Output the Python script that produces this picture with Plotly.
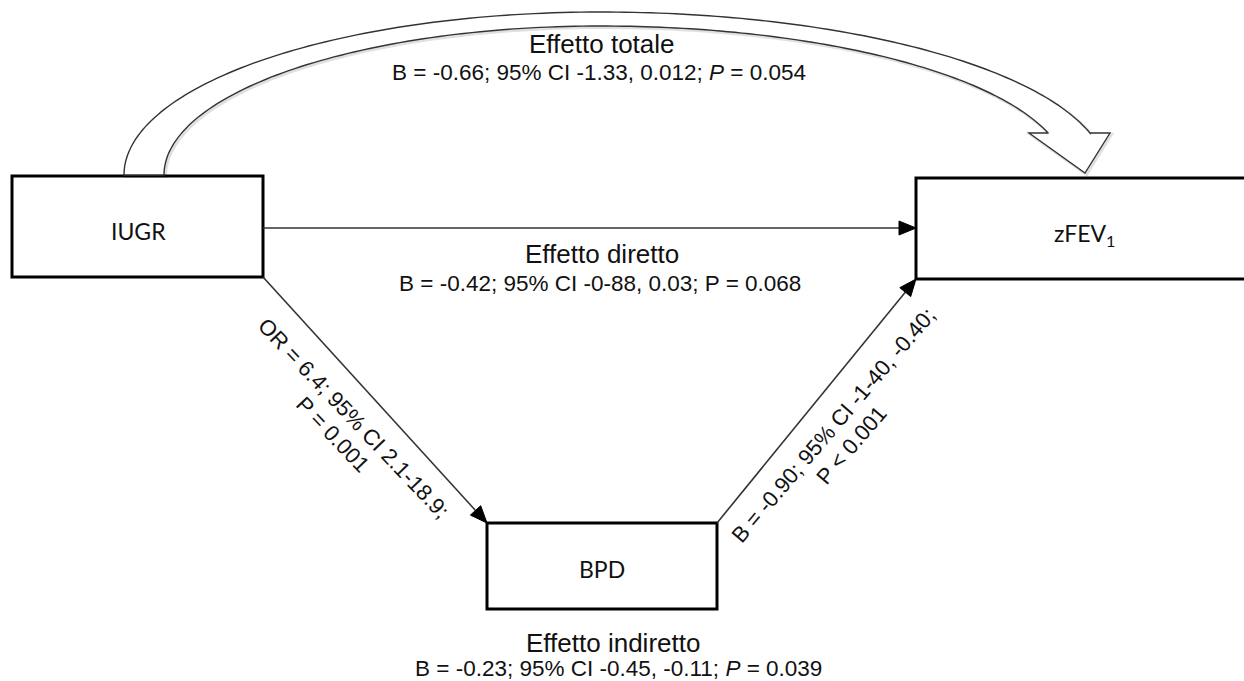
import numpy as np
import plotly.graph_objects as go

# ---- diagram content -------------------------------------------------------
node_names = ["IUGR", "zFEV<sub>1</sub>", "BPD"]

effect_titles = ["Effetto totale", "Effetto diretto", "Effetto indiretto"]
effect_B = ["-0.66", "-0.42", "-0.23"]
effect_CI = [("-1.33", "0.012"), ("-0-88", "0.03"), ("-0.45", "-0.11")]
effect_P = ["0.054", "0.068", "0.039"]
effect_P_italic = [True, False, True]

path_a_OR = "6.4"
path_a_CI = "2.1-18.9"
path_a_P = "0.001"

path_b_B = "-0.90"
path_b_CI = "-1-40, -0.40"
path_b_P = "< 0.001"

# ---- layout geometry (pixel space, y grows downward) ------------------------
W, H = 1244, 681
boxes = {
    "IUGR": (12, 176, 263, 277),
    "zFEV": (916, 178, 1260, 279),
    "BPD": (487, 523, 717, 609),
}
LINE = "#333333"
FONT = "Liberation Sans, Arial, sans-serif"
BOX_FONT = "Lato, Open Sans, sans-serif"

shapes = []
annotations = []

# node boxes
for key, (x0, y0, x1, y1) in boxes.items():
    shapes.append(dict(type="rect", x0=x0, y0=y0, x1=x1, y1=y1,
                       line=dict(color="black", width=3), fillcolor="white",
                       layer="below"))

label_pos = {"IUGR": (138, 231), "zFEV": (1084, 234), "BPD": (602, 569)}
for key, name in zip(["IUGR", "zFEV", "BPD"], node_names):
    x, y = label_pos[key]
    annotations.append(dict(x=x, y=y, text=name, showarrow=False,
                            font=dict(family=BOX_FONT, size=23, color="#111111"),
                            xanchor="center", yanchor="middle"))


def arrow(p0, p1, head_len=17, head_w=14):
    p0 = np.array(p0, float)
    p1 = np.array(p1, float)
    u = (p1 - p0) / np.linalg.norm(p1 - p0)
    n = np.array([-u[1], u[0]])
    base = p1 - head_len * u
    shapes.append(dict(type="line", x0=p0[0], y0=p0[1], x1=base[0], y1=base[1],
                       line=dict(color=LINE, width=1.6)))
    a = base + n * head_w / 2
    b = base - n * head_w / 2
    shapes.append(dict(type="path",
                       path=f"M {p1[0]:.1f},{p1[1]:.1f} L {a[0]:.1f},{a[1]:.1f} "
                            f"L {b[0]:.1f},{b[1]:.1f} Z",
                       fillcolor="black", line=dict(color="black", width=1)))


# direct path IUGR -> zFEV1
arrow((263, 228), (916, 228))
# path a: IUGR -> BPD
arrow((263, 277), (487, 523))
# path b: BPD -> zFEV1
arrow((717, 523), (916, 279))


# ---- hollow curved arrow for the total effect -------------------------------
def half_ellipse(cx, cy, a_left, a_right, b, x_end, n=80):
    # left quarter (vertical start) followed by right part down to x_end
    t = np.linspace(0, np.pi / 2, n)
    xl = cx - a_left * np.cos(t)
    yl = cy - b * np.sin(t)
    u_end = np.arcsin(min((x_end - cx) / a_right, 1.0))
    u = np.linspace(0, u_end, n)[1:]
    xr = cx + a_right * np.sin(u)
    yr = cy - b * np.cos(u)
    return np.concatenate([xl, xr]), np.concatenate([yl, yr])


ox, oy = half_ellipse(600, 175, 476, 507, 163, 1090)
ix, iy = half_ellipse(600, 175, 436, 467, 149, 1048)
head = [(1110, 133), (1085, 173), (1029, 133)]

pts = list(zip(ox, oy)) + [(1090, 133)] + head + [(1048, 133)] + list(zip(ix[::-1], iy[::-1]))
d = "M " + " L ".join(f"{x:.1f},{y:.1f}" for x, y in pts) + " Z"
shadow = "M " + " L ".join(f"{x + 1.5:.1f},{y + 1.5:.1f}" for x, y in pts) + " Z"
shapes.append(dict(type="path", path=shadow, line=dict(color="rgba(0,0,0,0.12)", width=3),
                   fillcolor="rgba(0,0,0,0)"))
shapes.append(dict(type="path", path=d, line=dict(color=LINE, width=1.4),
                   fillcolor="white"))

# ---- effect labels ----------------------------------------------------------
title_pos = [(602, 44), (602, 254), (613, 643)]
stat_pos = [(599, 72), (600, 283), (618, 668)]
for i in range(3):
    p_lab = "<i>P</i>" if effect_P_italic[i] else "P"
    stat = f"B = {effect_B[i]}; 95% CI {effect_CI[i][0]}, {effect_CI[i][1]}; {p_lab} = {effect_P[i]}"
    annotations.append(dict(x=title_pos[i][0], y=title_pos[i][1], text=effect_titles[i],
                            showarrow=False, font=dict(family=FONT, size=26, color="#111111"),
                            xanchor="center", yanchor="middle"))
    annotations.append(dict(x=stat_pos[i][0], y=stat_pos[i][1], text=stat,
                            showarrow=False, font=dict(family=FONT, size=22.5, color="#111111"),
                            xanchor="center", yanchor="middle"))

# rotated labels along the two mediator paths
path_a_lines = [f"OR = {path_a_OR}; 95% CI {path_a_CI};", f"P = {path_a_P}"]
path_a_pos = [(354, 418), (333, 434)]
for txt, (x, y) in zip(path_a_lines, path_a_pos):
    annotations.append(dict(x=x, y=y, text=txt, showarrow=False, textangle=46.5,
                            font=dict(family=FONT, size=22, color="#111111"),
                            xanchor="center", yanchor="middle"))

path_b_lines = [f"B = {path_b_B}; 95% CI {path_b_CI};", f"P {path_b_P}"]
path_b_pos = [(833, 425), (851, 445)]
for txt, (x, y) in zip(path_b_lines, path_b_pos):
    annotations.append(dict(x=x, y=y, text=txt, showarrow=False, textangle=-49.5,
                            font=dict(family=FONT, size=22, color="#111111"),
                            xanchor="center", yanchor="middle"))

fig = go.Figure()
fig.update_layout(
    width=W, height=H,
    margin=dict(l=0, r=0, t=0, b=0),
    paper_bgcolor="white", plot_bgcolor="white",
    xaxis=dict(range=[0, W], visible=False, fixedrange=True),
    yaxis=dict(range=[H, 0], visible=False, fixedrange=True),
    shapes=shapes, annotations=annotations,
    showlegend=False,
)
fig.write_html("out.html")
